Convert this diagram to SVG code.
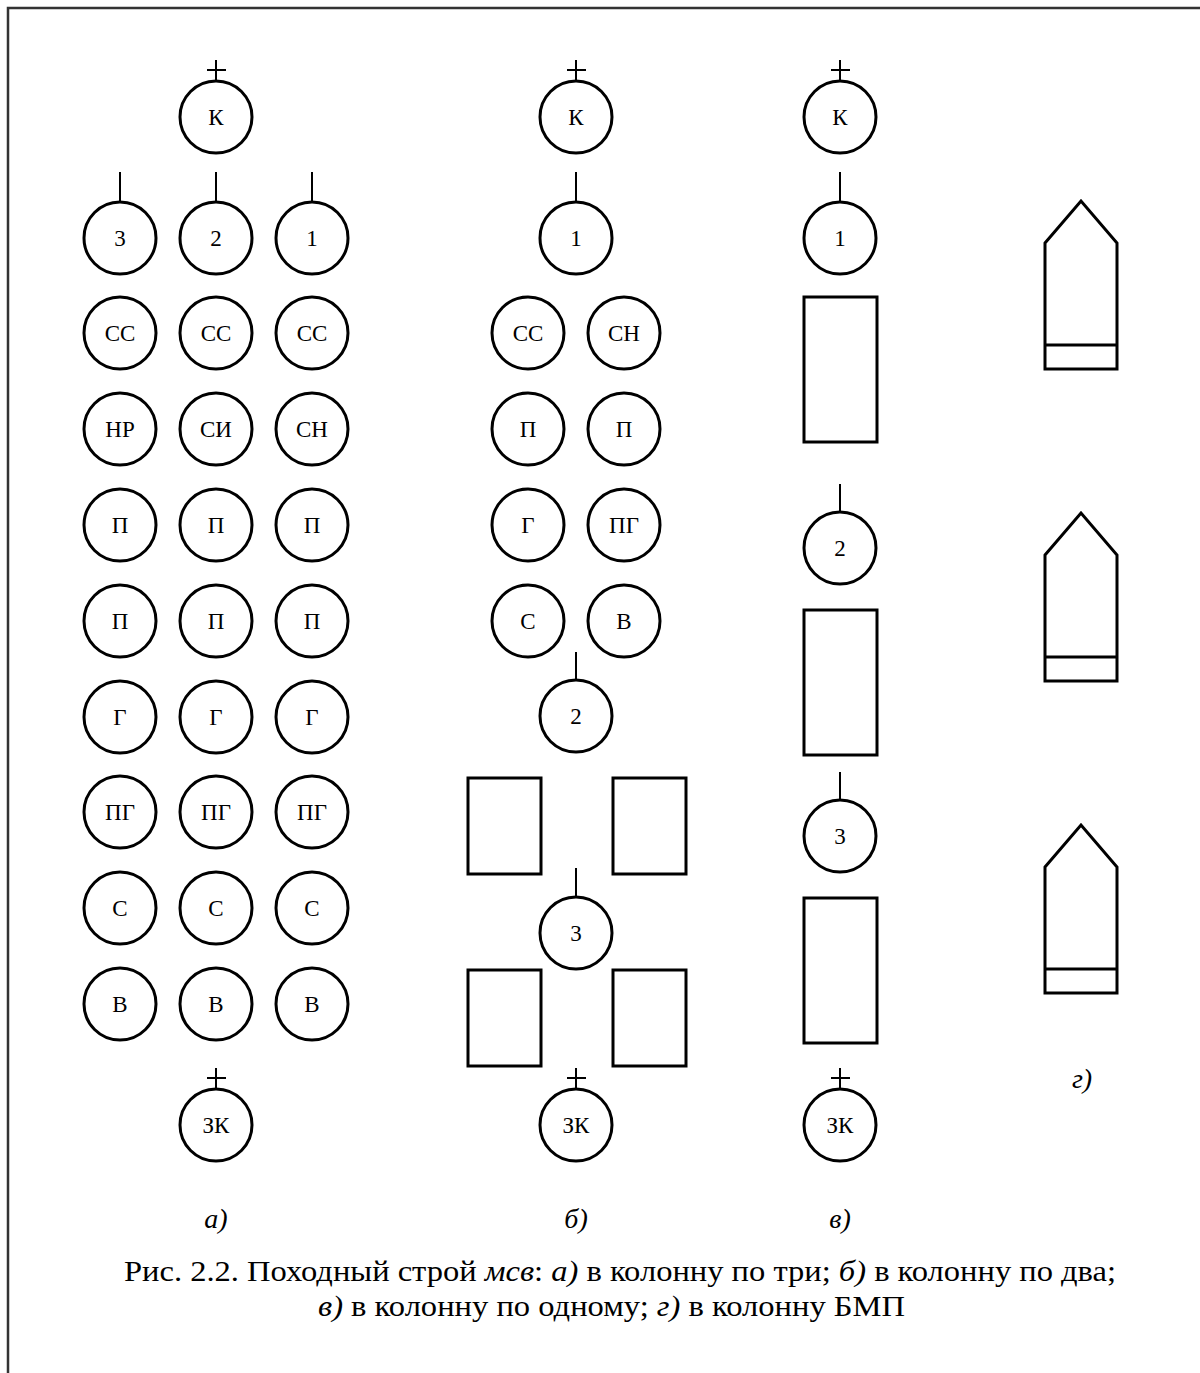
<svg xmlns="http://www.w3.org/2000/svg" width="1200" height="1373" viewBox="0 0 1200 1373">
<style>
.c{fill:#fff;stroke:#000;stroke-width:3}
.r{fill:#fff;stroke:#000;stroke-width:3}
.t{font-family:"Liberation Serif",Tinos,"DejaVu Serif","Noto Serif",serif;font-size:23px;text-anchor:middle;dominant-baseline:central;fill:#000}
.l{stroke:#000;stroke-width:2;fill:none}
.lab{font-family:"Liberation Serif",Tinos,"DejaVu Serif","Noto Serif",serif;font-size:28px;font-style:italic;text-anchor:middle;fill:#000}
.cap{font-family:"Liberation Serif",Tinos,"DejaVu Serif","Noto Serif",serif;font-size:30px;fill:#000}
</style>
<rect width="1200" height="1373" fill="#fff"/>
<path d="M8,1373 V8 H1200" fill="none" stroke="#333" stroke-width="2.5"/>
<g id="connectors">
<path class="l" d="M216,60 V81 M207,70 H226"/>
<path class="l" d="M120,172 V202 M216,172 V202 M312,172 V202"/>
<path class="l" d="M216,1068 V1089 M207,1078 H226"/>
<path class="l" d="M576,60 V81 M567,70 H586"/>
<path class="l" d="M576,172 V202"/>
<path class="l" d="M576,652 V680"/>
<path class="l" d="M576,868 V897"/>
<path class="l" d="M576,1068 V1089 M567,1078 H586"/>
<path class="l" d="M840,60 V81 M831,70 H850"/>
<path class="l" d="M840,172 V202"/>
<path class="l" d="M840,484 V512"/>
<path class="l" d="M840,772 V800"/>
<path class="l" d="M840,1068 V1089 M831,1078 H850"/>
</g>
<g id="a">
<g id="a-k"><circle class="c" cx="216" cy="117" r="36"/><text class="t" x="216" y="117">К</text></g>
<g id="a-3"><circle class="c" cx="120" cy="238" r="36"/><text class="t" x="120" y="238">3</text></g>
<g id="a-2"><circle class="c" cx="216" cy="238" r="36"/><text class="t" x="216" y="238">2</text></g>
<g id="a-1"><circle class="c" cx="312" cy="238" r="36"/><text class="t" x="312" y="238">1</text></g>
<g id="a-r3c1"><circle class="c" cx="120" cy="333" r="36"/><text class="t" x="120" y="333">СС</text></g>
<g id="a-r3c2"><circle class="c" cx="216" cy="333" r="36"/><text class="t" x="216" y="333">СС</text></g>
<g id="a-r3c3"><circle class="c" cx="312" cy="333" r="36"/><text class="t" x="312" y="333">СС</text></g>
<g id="a-r4c1"><circle class="c" cx="120" cy="429" r="36"/><text class="t" x="120" y="429">НР</text></g>
<g id="a-r4c2"><circle class="c" cx="216" cy="429" r="36"/><text class="t" x="216" y="429">СИ</text></g>
<g id="a-r4c3"><circle class="c" cx="312" cy="429" r="36"/><text class="t" x="312" y="429">СН</text></g>
<g id="a-r5c1"><circle class="c" cx="120" cy="525" r="36"/><text class="t" x="120" y="525">П</text></g>
<g id="a-r5c2"><circle class="c" cx="216" cy="525" r="36"/><text class="t" x="216" y="525">П</text></g>
<g id="a-r5c3"><circle class="c" cx="312" cy="525" r="36"/><text class="t" x="312" y="525">П</text></g>
<g id="a-r6c1"><circle class="c" cx="120" cy="621" r="36"/><text class="t" x="120" y="621">П</text></g>
<g id="a-r6c2"><circle class="c" cx="216" cy="621" r="36"/><text class="t" x="216" y="621">П</text></g>
<g id="a-r6c3"><circle class="c" cx="312" cy="621" r="36"/><text class="t" x="312" y="621">П</text></g>
<g id="a-r7c1"><circle class="c" cx="120" cy="717" r="36"/><text class="t" x="120" y="717">Г</text></g>
<g id="a-r7c2"><circle class="c" cx="216" cy="717" r="36"/><text class="t" x="216" y="717">Г</text></g>
<g id="a-r7c3"><circle class="c" cx="312" cy="717" r="36"/><text class="t" x="312" y="717">Г</text></g>
<g id="a-r8c1"><circle class="c" cx="120" cy="812" r="36"/><text class="t" x="120" y="812">ПГ</text></g>
<g id="a-r8c2"><circle class="c" cx="216" cy="812" r="36"/><text class="t" x="216" y="812">ПГ</text></g>
<g id="a-r8c3"><circle class="c" cx="312" cy="812" r="36"/><text class="t" x="312" y="812">ПГ</text></g>
<g id="a-r9c1"><circle class="c" cx="120" cy="908" r="36"/><text class="t" x="120" y="908">С</text></g>
<g id="a-r9c2"><circle class="c" cx="216" cy="908" r="36"/><text class="t" x="216" y="908">С</text></g>
<g id="a-r9c3"><circle class="c" cx="312" cy="908" r="36"/><text class="t" x="312" y="908">С</text></g>
<g id="a-r10c1"><circle class="c" cx="120" cy="1004" r="36"/><text class="t" x="120" y="1004">В</text></g>
<g id="a-r10c2"><circle class="c" cx="216" cy="1004" r="36"/><text class="t" x="216" y="1004">В</text></g>
<g id="a-r10c3"><circle class="c" cx="312" cy="1004" r="36"/><text class="t" x="312" y="1004">В</text></g>
<g id="a-zk"><circle class="c" cx="216" cy="1125" r="36"/><text class="t" x="216" y="1125">ЗК</text></g>
</g>
<g id="b">
<g id="b-k"><circle class="c" cx="576" cy="117" r="36"/><text class="t" x="576" y="117">К</text></g>
<g id="b-1"><circle class="c" cx="576" cy="238" r="36"/><text class="t" x="576" y="238">1</text></g>
<g id="b-r3c1"><circle class="c" cx="528" cy="333" r="36"/><text class="t" x="528" y="333">СС</text></g>
<g id="b-r3c2"><circle class="c" cx="624" cy="333" r="36"/><text class="t" x="624" y="333">СН</text></g>
<g id="b-r4c1"><circle class="c" cx="528" cy="429" r="36"/><text class="t" x="528" y="429">П</text></g>
<g id="b-r4c2"><circle class="c" cx="624" cy="429" r="36"/><text class="t" x="624" y="429">П</text></g>
<g id="b-r5c1"><circle class="c" cx="528" cy="525" r="36"/><text class="t" x="528" y="525">Г</text></g>
<g id="b-r5c2"><circle class="c" cx="624" cy="525" r="36"/><text class="t" x="624" y="525">ПГ</text></g>
<g id="b-r6c1"><circle class="c" cx="528" cy="621" r="36"/><text class="t" x="528" y="621">С</text></g>
<g id="b-r6c2"><circle class="c" cx="624" cy="621" r="36"/><text class="t" x="624" y="621">В</text></g>
<g id="b-2"><circle class="c" cx="576" cy="716" r="36"/><text class="t" x="576" y="716">2</text></g>
<g id="b-v1"><rect class="r" x="468" y="778" width="73" height="96"/></g>
<g id="b-v2"><rect class="r" x="613" y="778" width="73" height="96"/></g>
<g id="b-3"><circle class="c" cx="576" cy="933" r="36"/><text class="t" x="576" y="933">3</text></g>
<g id="b-v3"><rect class="r" x="468" y="970" width="73" height="96"/></g>
<g id="b-v4"><rect class="r" x="613" y="970" width="73" height="96"/></g>
<g id="b-zk"><circle class="c" cx="576" cy="1125" r="36"/><text class="t" x="576" y="1125">ЗК</text></g>
</g>
<g id="v">
<g id="v-k"><circle class="c" cx="840" cy="117" r="36"/><text class="t" x="840" y="117">К</text></g>
<g id="v-1"><circle class="c" cx="840" cy="238" r="36"/><text class="t" x="840" y="238">1</text></g>
<g id="v-v1"><rect class="r" x="804" y="297" width="73" height="145"/></g>
<g id="v-2"><circle class="c" cx="840" cy="548" r="36"/><text class="t" x="840" y="548">2</text></g>
<g id="v-v2"><rect class="r" x="804" y="610" width="73" height="145"/></g>
<g id="v-3"><circle class="c" cx="840" cy="836" r="36"/><text class="t" x="840" y="836">3</text></g>
<g id="v-v3"><rect class="r" x="804" y="898" width="73" height="145"/></g>
<g id="v-zk"><circle class="c" cx="840" cy="1125" r="36"/><text class="t" x="840" y="1125">ЗК</text></g>
</g>
<g id="g">
<g id="g-1"><path class="r" d="M1045,243 L1081,201 L1117,243 V369 H1045 Z M1045,345 H1117"/></g>
<g id="g-2"><path class="r" d="M1045,555 L1081,513 L1117,555 V681 H1045 Z M1045,657 H1117"/></g>
<g id="g-3"><path class="r" d="M1045,867 L1081,825 L1117,867 V993 H1045 Z M1045,969 H1117"/></g>
</g>
<g id="labels">
<text class="lab" x="1082" y="1088">г)</text>
<text class="lab" x="216" y="1228">а)</text>
<text class="lab" x="576" y="1228">б)</text>
<text class="lab" x="840" y="1228">в)</text>
<text class="cap" x="124" y="1281" textLength="992" lengthAdjust="spacingAndGlyphs">Рис. 2.2. Походный строй <tspan font-style="italic">мсв</tspan>: <tspan font-style="italic">а)</tspan> в колонну по три; <tspan font-style="italic">б)</tspan> в колонну по два;</text>
<text class="cap" x="318" y="1316" textLength="587" lengthAdjust="spacingAndGlyphs"><tspan font-style="italic">в)</tspan> в колонну по одному;  <tspan font-style="italic">г)</tspan> в колонну БМП</text>
</g>
</svg>
